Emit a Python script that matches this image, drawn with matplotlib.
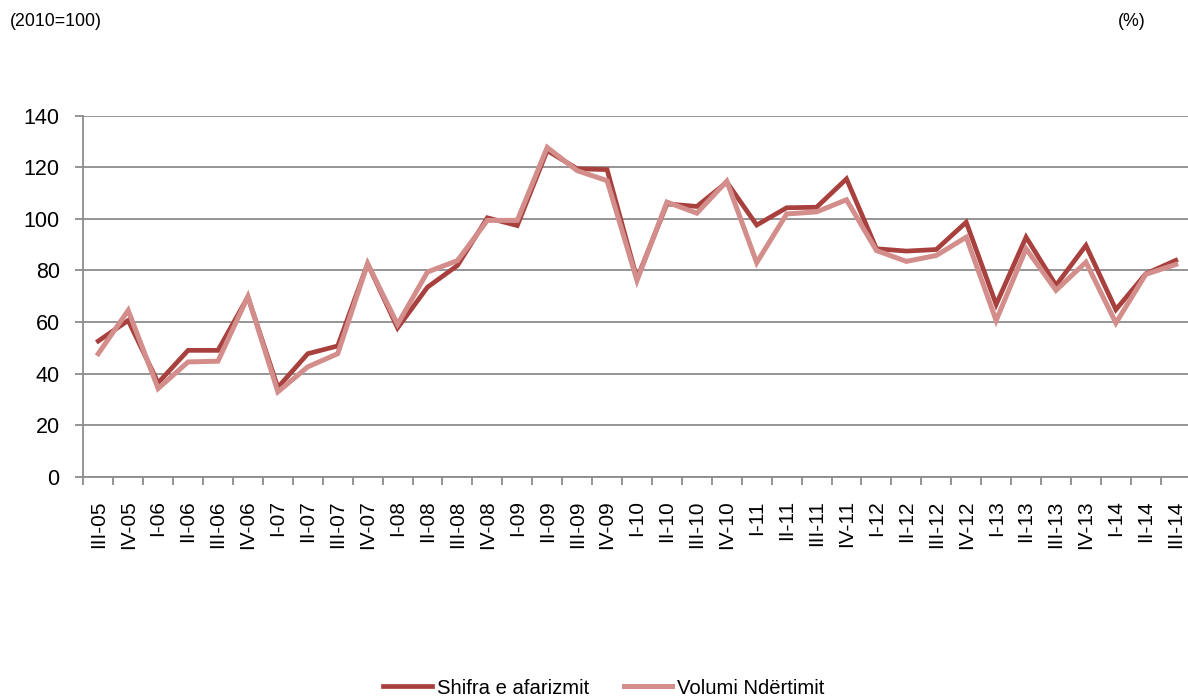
import matplotlib
matplotlib.use("Agg")
import matplotlib.pyplot as plt
import numpy as np

plt.rcParams['font.family'] = ['Liberation Sans', 'DejaVu Sans']

categories = ["III-05", "IV-05",
              "I-06", "II-06", "III-06", "IV-06",
              "I-07", "II-07", "III-07", "IV-07",
              "I-08", "II-08", "III-08", "IV-08",
              "I-09", "II-09", "III-09", "IV-09",
              "I-10", "II-10", "III-10", "IV-10",
              "I-11", "II-11", "III-11", "IV-11",
              "I-12", "II-12", "III-12", "IV-12",
              "I-13", "II-13", "III-13", "IV-13",
              "I-14", "II-14", "III-14"]

shifra = [52.6, 60.6,
          36.4, 49.0, 49.0, 69.7,
          34.6, 47.7, 50.7, 82.6,
          57.7, 73.5, 81.9, 100.4,
          97.4, 126.5, 119.4, 119.1,
          76.8, 105.8, 104.8, 114.2,
          97.6, 104.3, 104.5, 115.5,
          88.4, 87.5, 88.1, 98.7,
          66.8, 92.9, 74.2, 89.7,
          64.8, 78.7, 83.9]

volumi = [47.7, 64.5,
          34.2, 44.5, 44.8, 69.9,
          32.9, 42.6, 47.7, 82.6,
          59.1, 79.4, 83.8, 99.4,
          99.4, 127.7, 118.7, 114.8,
          76.1, 106.5, 102.2, 114.6,
          83.0, 101.9, 102.7, 107.4,
          87.7, 83.5, 85.8, 92.9,
          60.6, 88.4, 72.3, 83.2,
          59.6, 78.5, 82.3]

series_names = ["Shifra e afarizmit", "Volumi Ndërtimit"]
yticks = [0, 20, 40, 60, 80, 100, 120, 140]

dark = "#A8403E"
light = "#D38E8C"
grid = "#8C8C8C"

fig = plt.figure(figsize=(11.88, 7.0), dpi=100)
ax = fig.add_axes([83.3 / 1188, 223.3 / 700, 1107.4 / 1188, 361.0 / 700])

x = np.arange(len(categories))
ax.plot(x, shifra, color=dark, lw=3.4, label=series_names[0], solid_joinstyle='miter', zorder=3)
ax.plot(x, volumi, color=light, lw=3.6, label=series_names[1], solid_joinstyle='miter', zorder=4)

ax.set_xlim(-0.5, len(categories) - 0.5)
ax.set_ylim(0, 140)
ax.set_yticks(yticks)
ax.set_yticklabels([str(v) for v in yticks])
ax.yaxis.grid(True, color=grid, lw=1.3)
ax.set_axisbelow(True)

ax.set_xticks(np.arange(len(categories) + 1) - 0.5)
ax.set_xticklabels([])
ax.set_xticks(x, minor=True)
ax.set_xticklabels(categories, minor=True, rotation=90, fontsize=15, va='top', ha='center')
ax.tick_params(axis='x', which='major', length=6, width=1.3, color=grid, direction='out')
ax.tick_params(axis='x', which='minor', length=0, pad=17)
ax.tick_params(axis='y', length=6, width=1.3, color=grid, pad=11, labelsize=15.5)

for s in ['top', 'right']:
    ax.spines[s].set_visible(False)
for s in ['left', 'bottom']:
    ax.spines[s].set_color(grid)
    ax.spines[s].set_linewidth(1.3)

fig.text(10 / 1188, 1 - 22 / 700, "(2010=100)", fontsize=12.8, va='center', ha='left')
fig.text(1132 / 1188, 1 - 22 / 700, "(%)", fontsize=12.8, va='center', ha='center')

fig.legend(loc='center', bbox_to_anchor=(604 / 1188, 12 / 700), ncol=2, frameon=False,
           fontsize=14.6, handlelength=2.4, handletextpad=0.25, columnspacing=1.7,
           borderaxespad=0, borderpad=0)

fig.savefig("out.png", dpi=100)
